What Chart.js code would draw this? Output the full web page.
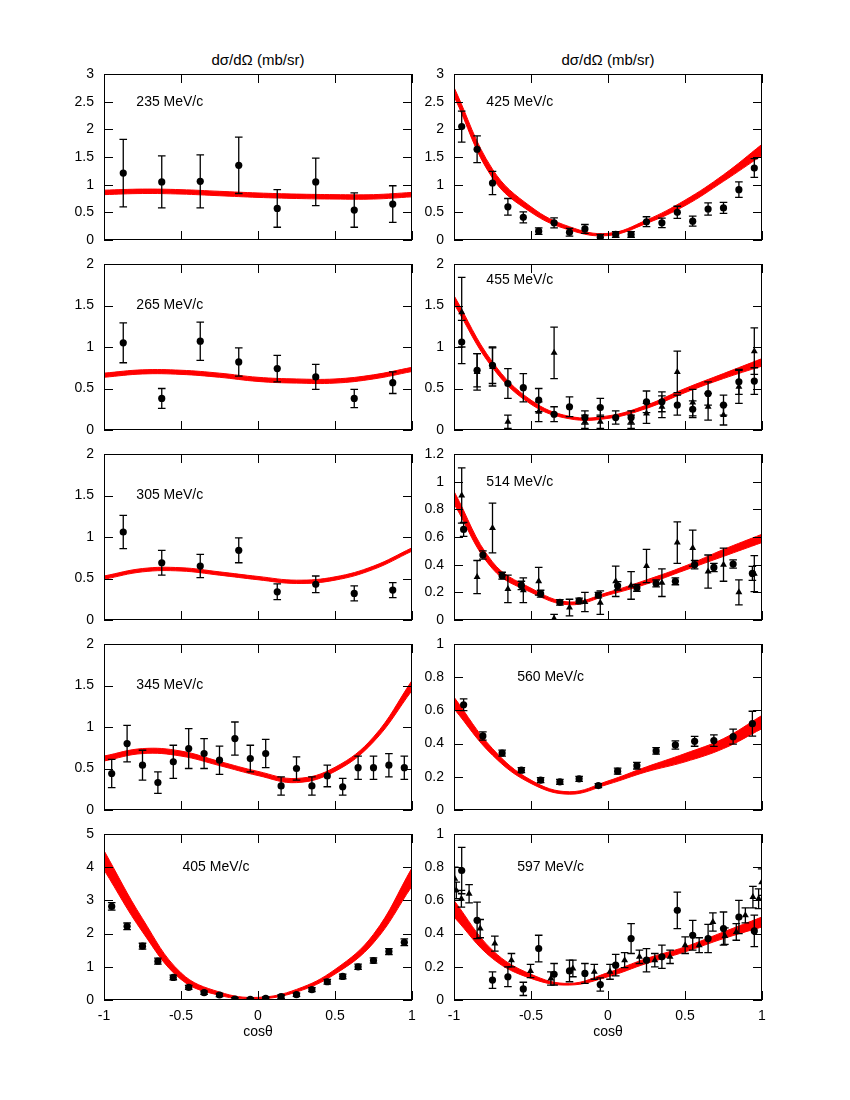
<!DOCTYPE html>
<html>
<head>
<meta charset="utf-8">
<script src="https://cdn.jsdelivr.net/npm/chart.js@4.4.1/dist/chart.umd.min.js"></script>
<style>
  body { margin: 0; background: #fff; width: 850px; height: 1100px; position: relative;
         font-family: "Liberation Sans", Arial, Helvetica, sans-serif; }
  .head { position: absolute; top: 51px; font-size: 15px; transform: translateX(-50%); white-space: nowrap; }
  canvas { position: absolute; }
</style>
</head>
<body>
<div class="head" style="left:258px">dσ/dΩ (mb/sr)</div>
<div class="head" style="left:608px">dσ/dΩ (mb/sr)</div>
<script>
// x grids (cos theta)
const bandX = [-1, -0.75, -0.5, -0.25, 0, 0.25, 0.5, 0.75, 1];
const bins8 = [-0.875, -0.625, -0.375, -0.125, 0.125, 0.375, 0.625, 0.875];
const bins16 = [-0.9375, -0.8125, -0.6875, -0.5625, -0.4375, -0.3125, -0.1875, -0.0625,
                0.0625, 0.1875, 0.3125, 0.4375, 0.5625, 0.6875, 0.8125, 0.9375];
const bins20 = [-0.95, -0.85, -0.75, -0.65, -0.55, -0.45, -0.35, -0.25, -0.15, -0.05,
                0.05, 0.15, 0.25, 0.35, 0.45, 0.55, 0.65, 0.75, 0.85, 0.95];

// 235 MeV/c
const y235 = [1.21, 1.05, 1.06, 1.35, 0.57, 1.05, 0.54, 0.65];
const e235 = [0.61, 0.47, 0.48, 0.51, 0.34, 0.43, 0.31, 0.33];
const lo235 = [0.82, 0.84, 0.83, 0.80, 0.77, 0.75, 0.74, 0.74, 0.78];
const hi235 = [0.90, 0.92, 0.91, 0.88, 0.85, 0.83, 0.82, 0.82, 0.86];

// 265 MeV/c
const y265 = [1.05, 0.38, 1.07, 0.82, 0.74, 0.64, 0.38, 0.57];
const e265 = [0.24, 0.12, 0.23, 0.17, 0.16, 0.15, 0.11, 0.13];
const lo265 = [0.635, 0.675, 0.67, 0.635, 0.585, 0.565, 0.565, 0.615, 0.705];
const hi265 = [0.685, 0.725, 0.72, 0.685, 0.635, 0.615, 0.615, 0.665, 0.755];

// 305 MeV/c
const y305 = [1.06, 0.69, 0.65, 0.84, 0.34, 0.43, 0.32, 0.36];
const e305 = [0.20, 0.15, 0.14, 0.15, 0.095, 0.10, 0.09, 0.09];
const lo305 = [0.49, 0.58, 0.59, 0.54, 0.485, 0.44, 0.48, 0.61, 0.83];
const hi305 = [0.53, 0.62, 0.63, 0.58, 0.525, 0.48, 0.52, 0.65, 0.87];

// 345 MeV/c
const y345 = [0.44, 0.80, 0.54, 0.33, 0.58, 0.74, 0.68, 0.60, 0.86, 0.62,
              0.68, 0.29, 0.50, 0.29, 0.41, 0.28, 0.51, 0.51, 0.54, 0.51];
const e345 = [0.17, 0.22, 0.18, 0.13, 0.20, 0.24, 0.18, 0.17, 0.20, 0.16,
              0.17, 0.11, 0.14, 0.11, 0.13, 0.10, 0.14, 0.14, 0.14, 0.14];
const lo345 = [0.59, 0.68, 0.65, 0.535, 0.415, 0.33, 0.465, 0.82, 1.44];
const hi345 = [0.65, 0.74, 0.71, 0.585, 0.465, 0.38, 0.515, 0.88, 1.56];

// 405 MeV/c
const y405 = [2.82, 2.22, 1.62, 1.17, 0.68, 0.38, 0.22, 0.15, 0.03, 0.02,
              0.05, 0.10, 0.16, 0.31, 0.55, 0.71, 1.00, 1.19, 1.46, 1.74];
const e405 = [0.11, 0.10, 0.09, 0.09, 0.07, 0.06, 0.05, 0.05, 0.04, 0.04,
              0.04, 0.05, 0.05, 0.06, 0.07, 0.07, 0.08, 0.08, 0.09, 0.10];
const lo405 = [3.92, 2.05, 0.62, 0.14, 0.03, 0.24, 0.78, 1.72, 3.43];
const hi405 = [4.50, 2.45, 0.82, 0.24, 0.08, 0.32, 0.92, 1.98, 3.98];

// 425 MeV/c
const y425 = [2.05, 1.64, 1.03, 0.60, 0.41, 0.16, 0.31, 0.14, 0.20, 0.05,
              0.10, 0.10, 0.33, 0.31, 0.50, 0.34, 0.56, 0.58, 0.91, 1.30];
const e425 = [0.28, 0.24, 0.21, 0.15, 0.10, 0.06, 0.09, 0.07, 0.08, 0.05,
              0.05, 0.05, 0.09, 0.085, 0.11, 0.09, 0.11, 0.10, 0.14, 0.17];
const lo425 = [2.60, 1.12, 0.50, 0.18, 0.08, 0.30, 0.62, 1.06, 1.53];
const hi425 = [2.76, 1.28, 0.60, 0.24, 0.12, 0.36, 0.72, 1.18, 1.73];

// 455 MeV/c
const y455 = [1.06, 0.72, 0.78, 0.56, 0.51, 0.36, 0.19, 0.28, 0.15, 0.27,
              0.15, 0.15, 0.34, 0.34, 0.30, 0.25, 0.44, 0.30, 0.58, 0.59];
const e455 = [0.26, 0.20, 0.22, 0.18, 0.17, 0.14, 0.09, 0.12, 0.08, 0.11,
              0.08, 0.08, 0.13, 0.12, 0.12, 0.10, 0.14, 0.12, 0.15, 0.16];
const t455 = [1.42, 0.70, 0.76, 0.10, null, 0.22, 0.93, null, 0.10, 0.10,
              null, 0.10, 0.20, 0.28, 0.70, 0.33, 0.28, 0.18, 0.52, 0.95];
const te455 = [0.42, 0.22, 0.23, 0.08, null, 0.12, 0.31, null, 0.08, 0.08,
               null, 0.08, 0.12, 0.13, 0.25, 0.16, 0.16, 0.12, 0.20, 0.28];
const lo455 = [1.52, 0.75, 0.31, 0.135, 0.14, 0.26, 0.45, 0.62, 0.77];
const hi455 = [1.62, 0.82, 0.36, 0.165, 0.17, 0.30, 0.50, 0.68, 0.86];

// 514 MeV/c
const y514 = [0.655, 0.47, 0.32, 0.25, 0.19, 0.128, 0.138, 0.18,
              0.247, 0.233, 0.264, 0.28, 0.40, 0.38, 0.405, 0.337];
const e514 = [0.05, 0.03, 0.025, 0.03, 0.025, 0.02, 0.02, 0.02,
              0.03, 0.025, 0.025, 0.025, 0.03, 0.03, 0.03, 0.05];
const t514 = [0.90, 0.31, 0.665, 0.225, 0.215, 0.28, 0.01, 0.09, 0.13, 0.125,
              0.28, 0.25, 0.39, 0.27, 0.56, 0.52, 0.35, 0.40, 0.20, 0.335];
const te514 = [0.20, 0.12, 0.18, 0.10, 0.09, 0.10, 0.03, 0.06, 0.07, 0.085,
               0.11, 0.10, 0.12, 0.10, 0.15, 0.13, 0.12, 0.12, 0.09, 0.13];
const lo514 = [0.84, 0.37, 0.20, 0.11, 0.18, 0.26, 0.36, 0.46, 0.56];
const hi514 = [0.93, 0.42, 0.23, 0.13, 0.20, 0.29, 0.39, 0.51, 0.62];

// 560 MeV/c
const y560 = [0.634, 0.446, 0.343, 0.24, 0.18, 0.17, 0.188, 0.147,
              0.234, 0.267, 0.356, 0.392, 0.414, 0.418, 0.442, 0.52];
const e560 = [0.035, 0.025, 0.018, 0.015, 0.015, 0.015, 0.015, 0.012,
              0.018, 0.02, 0.02, 0.025, 0.03, 0.035, 0.045, 0.075];
const lo560 = [0.61, 0.33, 0.16, 0.095, 0.155, 0.23, 0.29, 0.37, 0.49];
const hi560 = [0.68, 0.37, 0.18, 0.11, 0.175, 0.26, 0.34, 0.43, 0.57];

// 597 MeV/c
const y597 = [0.78, 0.48, 0.12, 0.14, 0.067, 0.31, 0.155, 0.175, 0.16, 0.093,
              0.21, 0.37, 0.24, 0.26, 0.54, 0.39, 0.37, 0.43, 0.50, 0.416];
const e597 = [0.14, 0.11, 0.05, 0.06, 0.04, 0.08, 0.065, 0.065, 0.06, 0.04,
              0.065, 0.09, 0.07, 0.07, 0.11, 0.09, 0.085, 0.10, 0.10, 0.095];
const tx597 = [-0.995, -0.985, -0.952, -0.902, -0.83, -0.735, -0.627, -0.503, -0.371, -0.228,
               -0.089, 0.013, 0.108, 0.204, 0.304, 0.403, 0.501, 0.592, 0.681, 0.759,
               0.833, 0.892, 0.941, 0.978, 0.998];
const t597 = [0.73, 0.66, 0.61, 0.64, 0.43, 0.34, 0.24, 0.175, 0.13, 0.19,
              0.17, 0.17, 0.24, 0.26, 0.24, 0.26, 0.33, 0.33, 0.47, 0.385,
              0.41, 0.51, 0.62, 0.61, 0.71];
const te597 = [0.07, 0.05, 0.05, 0.055, 0.055, 0.045, 0.04, 0.04, 0.04, 0.05,
               0.045, 0.045, 0.045, 0.04, 0.04, 0.04, 0.05, 0.045, 0.055, 0.05,
               0.05, 0.045, 0.065, 0.06, 0.08];
const lo597 = [0.50, 0.25, 0.13, 0.09, 0.14, 0.22, 0.29, 0.37, 0.44];
const hi597 = [0.60, 0.30, 0.155, 0.10, 0.165, 0.25, 0.32, 0.41, 0.50];

const panels = [
  { label: '235 MeV/c', col: 0, row: 0, yMax: 3, yStep: 0.5, at: [-0.79, 2.5],
    circ: [bins8, y235, e235], band: [lo235, hi235] },
  { label: '265 MeV/c', col: 0, row: 1, yMax: 2, yStep: 0.5, at: [-0.79, 1.5],
    circ: [bins8, y265, e265], band: [lo265, hi265] },
  { label: '305 MeV/c', col: 0, row: 2, yMax: 2, yStep: 0.5, at: [-0.79, 1.5],
    circ: [bins8, y305, e305], band: [lo305, hi305] },
  { label: '345 MeV/c', col: 0, row: 3, yMax: 2, yStep: 0.5, at: [-0.79, 1.5],
    circ: [bins20, y345, e345], band: [lo345, hi345] },
  { label: '405 MeV/c', col: 0, row: 4, yMax: 5, yStep: 1, at: [-0.49, 4],
    circ: [bins20, y405, e405], band: [lo405, hi405] },
  { label: '425 MeV/c', col: 1, row: 0, yMax: 3, yStep: 0.5, at: [-0.79, 2.5],
    circ: [bins20, y425, e425], band: [lo425, hi425] },
  { label: '455 MeV/c', col: 1, row: 1, yMax: 2, yStep: 0.5, at: [-0.79, 1.8],
    circ: [bins20, y455, e455], tri: [bins20, t455, te455], band: [lo455, hi455] },
  { label: '514 MeV/c', col: 1, row: 2, yMax: 1.2, yStep: 0.2, at: [-0.79, 1.0],
    circ: [bins16, y514, e514], tri: [bins20, t514, te514], band: [lo514, hi514] },
  { label: '560 MeV/c', col: 1, row: 3, yMax: 1, yStep: 0.2, at: [-0.59, 0.8],
    circ: [bins16, y560, e560], band: [lo560, hi560] },
  { label: '597 MeV/c', col: 1, row: 4, yMax: 1, yStep: 0.2, at: [-0.59, 0.8],
    circ: [bins20, y597, e597], tri: [tx597, t597, te597], band: [lo597, hi597] }
];

const FONT = '"Liberation Sans", Arial, Helvetica, sans-serif';
const colLeft = [104, 454];
const rowTop = [74, 264, 454, 644, 834];
const plotW = 308, plotH = 166;
const axisW = 44, padTop = 10, padRight = 10;

function toPoints(xs, ys, es) {
  const out = [];
  xs.forEach((x, i) => {
    if (ys[i] !== null && ys[i] !== undefined) out.push({ x: x, y: ys[i], e: es ? es[i] : 0 });
  });
  return out;
}

// gnuplot-style numbers: 1 not 1.0
const fmt = v => String(+Number(v).toFixed(2));

// keep the plot box at a fixed size: no label overhang padding
function noPad(s) {
  s.paddingTop = 0; s.paddingBottom = 0; s.paddingLeft = 0; s.paddingRight = 0;
}

// error bars drawn right before each marker dataset
const errorBars = {
  id: 'errorBars',
  beforeDatasetDraw(chart, args) {
    const ds = chart.data.datasets[args.index];
    if (!ds.errorBars) return;
    const ys = chart.scales.y;
    const area = chart.chartArea;
    const ctx = chart.ctx;
    ctx.save();
    ctx.beginPath();
    ctx.rect(area.left, area.top, area.right - area.left, area.bottom - area.top);
    ctx.clip();
    ctx.strokeStyle = '#000';
    ctx.lineWidth = 1.3;
    ds.data.forEach((p, i) => {
      const el = args.meta.data[i];
      if (!el || !p.e) return;
      const top = ys.getPixelForValue(p.y + p.e);
      const bot = ys.getPixelForValue(p.y - p.e);
      ctx.beginPath();
      ctx.moveTo(el.x, top); ctx.lineTo(el.x, bot);
      ctx.moveTo(el.x - 3.8, top); ctx.lineTo(el.x + 3.8, top);
      ctx.moveTo(el.x - 3.8, bot); ctx.lineTo(el.x + 3.8, bot);
      ctx.stroke();
    });
    ctx.restore();
  }
};

// box around the plot with inward ticks on all four sides
const frame = {
  id: 'frame',
  afterDatasetsDraw(chart) {
    const { ctx, chartArea: a, scales } = chart;
    ctx.save();
    ctx.strokeStyle = '#000';
    ctx.lineWidth = 1;
    ctx.strokeRect(a.left + 0.5, a.top + 0.5, a.right - a.left - 1, a.bottom - a.top - 1);
    ctx.beginPath();
    scales.x.ticks.forEach(t => {
      const px = Math.round(scales.x.getPixelForValue(t.value)) + 0.5;
      ctx.moveTo(px, a.bottom); ctx.lineTo(px, a.bottom - 9);
      ctx.moveTo(px, a.top); ctx.lineTo(px, a.top + 9);
    });
    scales.y.ticks.forEach(t => {
      const py = Math.round(scales.y.getPixelForValue(t.value)) + 0.5;
      ctx.moveTo(a.left, py); ctx.lineTo(a.left + 9, py);
      ctx.moveTo(a.right, py); ctx.lineTo(a.right - 9, py);
    });
    ctx.stroke();
    ctx.restore();
  }
};

// momentum label inside each panel
const momentumLabel = {
  id: 'momentumLabel',
  afterDraw(chart, args, opts) {
    const { ctx, scales } = chart;
    ctx.save();
    ctx.fillStyle = '#000';
    ctx.font = '14px ' + FONT;
    ctx.textAlign = 'left';
    ctx.textBaseline = 'middle';
    ctx.fillText(opts.text, scales.x.getPixelForValue(opts.at[0]), scales.y.getPixelForValue(opts.at[1]));
    ctx.restore();
  }
};

panels.forEach(p => {
  const bottomRow = p.row === 4;
  const xAxisH = bottomRow ? 41 : 0;
  const canvas = document.createElement('canvas');
  const w = axisW + plotW + padRight;
  const h = padTop + plotH + (bottomRow ? xAxisH : 10);
  canvas.width = w;
  canvas.height = h;
  canvas.style.left = (colLeft[p.col] - axisW) + 'px';
  canvas.style.top = (rowTop[p.row] - padTop) + 'px';
  document.body.appendChild(canvas);

  const datasets = [];
  if (p.tri) {
    datasets.push({
      type: 'scatter', data: toPoints(p.tri[0], p.tri[1], p.tri[2]), errorBars: true,
      pointStyle: 'triangle', pointRadius: 4, backgroundColor: '#000', borderColor: '#000', borderWidth: 0
    });
  }
  datasets.push({
    type: 'scatter', data: toPoints(p.circ[0], p.circ[1], p.circ[2]), errorBars: true,
    pointStyle: 'circle', pointRadius: 3.6, backgroundColor: '#000', borderColor: '#000', borderWidth: 0
  });
  datasets.push({
    type: 'line', data: toPoints(bandX, p.band[1]), fill: '+1', tension: 0.4,
    borderColor: '#ff0000', backgroundColor: '#ff0000', borderWidth: 1, pointRadius: 0
  });
  datasets.push({
    type: 'line', data: toPoints(bandX, p.band[0]), fill: false, tension: 0.4,
    borderColor: '#ff0000', borderWidth: 1, pointRadius: 0
  });

  new Chart(canvas, {
    type: 'scatter',
    data: { datasets: datasets },
    options: {
      responsive: false,
      animation: false,
      events: [],
      layout: { autoPadding: false, padding: { left: 0, top: padTop, right: padRight, bottom: bottomRow ? 0 : 10 } },
      plugins: {
        legend: { display: false },
        tooltip: { enabled: false },
        momentumLabel: { text: p.label, at: p.at }
      },
      scales: {
        x: {
          type: 'linear', min: -1, max: 1,
          ticks: { stepSize: 0.5, display: bottomRow, padding: 8, color: '#000', callback: fmt,
                   maxRotation: 0, font: { family: FONT, size: 14 } },
          grid: { display: false, drawTicks: false },
          border: { display: false },
          title: { display: bottomRow, text: 'cosθ', color: '#000', padding: 0, font: { family: FONT, size: 14 } },
          afterFit: s => { s.height = xAxisH; noPad(s); }
        },
        y: {
          type: 'linear', min: 0, max: p.yMax,
          ticks: { stepSize: p.yStep, padding: 10, color: '#000', callback: fmt, font: { family: FONT, size: 14 } },
          grid: { display: false, drawTicks: false },
          border: { display: false },
          afterFit: s => { s.width = axisW; noPad(s); }
        }
      }
    },
    plugins: [errorBars, frame, momentumLabel]
  });
});
</script>
</body>
</html>
